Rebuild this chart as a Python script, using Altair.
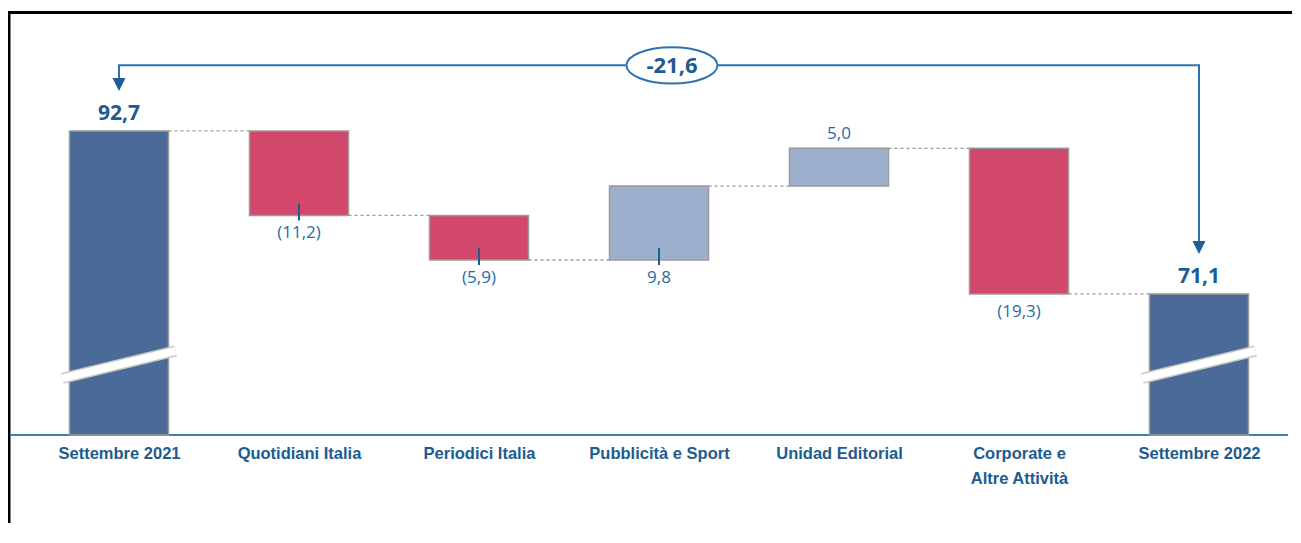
import json
import altair as alt
import pandas as pd

# ---------------- data ----------------
categories = ["Settembre 2021", "Quotidiani Italia", "Periodici Italia",
              "Pubblicità e Sport", "Unidad Editorial",
              "Corporate e\nAltre Attività", "Settembre 2022"]
values = [92.7, -11.2, -5.9, 9.8, 5.0, -19.3, 71.1]
kinds = ["total", "delta", "delta", "delta", "delta", "delta", "total"]
value_labels = ["92,7", "(11,2)", "(5,9)", "9,8", "5,0", "(19,3)", "71,1"]
label_side = ["top", "bottom", "bottom", "bottom", "top", "bottom", "top"]
has_tick = [False, True, True, True, False, False, False]
total_change = "-21,6"

# ---------------- scales / styling ----------------
Y_MIN, Y_MAX = 52.4, 109.0
W, H = 1284, 427
xs = alt.Scale(domain=[-0.5, 6.5], range=[21, 1281], nice=False, zero=False)
ys = alt.Scale(domain=[Y_MIN, Y_MAX], nice=False, zero=False)
HALF = 0.275

DARK = "#1d5b91"
LBL = "#2a6ca4"
ARROW = "#2b74b1"
FONT = "Open Sans"

# ---------------- build table ----------------
rows = []
run = 0.0
for i, (c, v, k, lab, side, tk) in enumerate(
        zip(categories, values, kinds, value_labels, label_side, has_tick)):
    if k == "total":
        lo, hi = Y_MIN, v
        color = "total"
        run = v
    else:
        start = run
        run = run + v
        lo, hi = min(start, run), max(start, run)
        color = "neg" if v < 0 else "pos"
    rows.append(dict(i=i, cat=c, x0=i - HALF, x1=i + HALF, lo=lo, hi=hi,
                     level=run, color=color, label=lab, side=side,
                     tick=tk, kind=k))
df = pd.DataFrame(rows)

conn = pd.DataFrame([dict(xa=r["i"] + HALF, xb=r["i"] + 1 - HALF, lvl=r["level"])
                     for r in rows[:-1]])

label_expr = "[" + ",".join(
    json.dumps(c.split("\n")) if "\n" in c else json.dumps(c) for c in categories
) + "][datum.value]"

XAXIS = alt.Axis(values=list(range(7)), labelExpr=label_expr,
                 labelFont="Liberation Sans", labelFontSize=16.5,
                 labelFontWeight="bold", labelColor=DARK,
                 labelPadding=10, labelLineHeight=25, labelAngle=0,
                 labelAlign="center", labelBaseline="top",
                 labelOverlap=False, labelFlush=False, labelBound=False,
                 ticks=False, domain=False, grid=False, title=None)


def X(field):
    return alt.X(field, type="quantitative", scale=xs, axis=XAXIS)


def Yq(field):
    return alt.Y(field, type="quantitative", scale=ys, axis=None)


base = alt.Chart(df)

# frame (decoration)
one = alt.Chart(pd.DataFrame({"a": [0]}))
frame_top = one.mark_rule(color="black", strokeWidth=3).encode(
    x=alt.value(0), x2=alt.value(W), y=alt.value(4.5))
frame_left = one.mark_rule(color="black", strokeWidth=3).encode(
    x=alt.value(1), y=alt.value(3), y2=alt.value(H + 88))

# baseline
baseline = alt.Chart(pd.DataFrame({"xa": [-0.605], "xb": [6.494], "yv": [Y_MIN]})).mark_rule(
    color="#3b7fb5", strokeWidth=2).encode(x=X("xa"), x2="xb", y=Yq("yv"))

# connectors
connectors = alt.Chart(conn).mark_rule(
    color="#9a9a9a", strokeWidth=1.3, strokeDash=[3, 3]).encode(
    x=X("xa"), x2="xb", y=Yq("lvl"))

# bars
bars = base.mark_rect(stroke="#9a9a9a", strokeWidth=1.5).encode(
    x=X("x0"), x2="x1",
    y=Yq("lo"), y2="hi",
    color=alt.Color("color:N", legend=None,
                    scale=alt.Scale(domain=["total", "neg", "pos"],
                                    range=["#4b6a98", "#d1486c", "#9cb0cd"])),
)

# axis breaks on total bars
brk_df = pd.DataFrame([dict(xa=r["i"] - 0.315, xb=r["i"] + 0.315, ya=59.9, yb=63.55)
                       for r in rows if r["kind"] == "total"])
brk_edge = alt.Chart(brk_df).mark_rule(color="#c8c8c8", strokeWidth=11).encode(
    x=X("xa"), x2="xb", y=Yq("ya"), y2="yb")
brk_white = alt.Chart(brk_df).mark_rule(color="white", strokeWidth=8).encode(
    x=X("xa"), x2="xb", y=Yq("ya"), y2="yb")

# small ticks
ticks = base.transform_filter("datum.tick").mark_rule(
    color=DARK, strokeWidth=2, yOffset=-12, y2Offset=5).encode(
    x=X("i"), y=Yq("lo"), y2="lo")

# delta labels
lab_below = base.transform_filter("datum.kind == 'delta' && datum.side == 'bottom'").mark_text(
    font=FONT, fontSize=17, color=LBL, baseline="middle", dy=18).encode(
    x=X("i"), y=Yq("lo"), text="label:N")
lab_above = base.transform_filter("datum.kind == 'delta' && datum.side == 'top'").mark_text(
    font=FONT, fontSize=17, color=LBL, baseline="middle", dy=-14).encode(
    x=X("i"), y=Yq("hi"), text="label:N")
lab_total = base.transform_filter("datum.kind == 'total'").mark_text(
    font=FONT, fontSize=21, fontWeight="bold", color=DARK, baseline="alphabetic", dy=-11).encode(
    x=X("i"), y=Yq("hi"), text="label:N")

# arrow connecting the two totals
ARROW_Y = 101.4
arrow_df = pd.DataFrame({"xp": [0, 0, 6, 6], "yp": [98.9, ARROW_Y, ARROW_Y, 77.3],
                         "o": [0, 1, 2, 3]})
arrow_line = alt.Chart(arrow_df).mark_line(color=ARROW, strokeWidth=2, strokeJoin="miter").encode(
    x=X("xp"), y=Yq("yp"), order="o:Q")
heads = alt.Chart(pd.DataFrame({"xp": [0, 6], "yp": [98.86, 77.26]})).mark_point(
    shape="M-1,-1L1,-1L0,1Z", size=169, filled=True, color="#1f5f99", opacity=1).encode(
    x=X("xp"), y=Yq("yp"))
ell_df = pd.DataFrame({"xp": [3.072], "yp": [ARROW_Y], "t": [total_change]})
ellipse = alt.Chart(ell_df).mark_point(
    shape="M-1,0A1,0.4,0,1,1,1,0A1,0.4,0,1,1,-1,0Z", size=8281, filled=False,
    fill="white", fillOpacity=1, stroke=ARROW, strokeWidth=2, opacity=1).encode(
    x=X("xp"), y=Yq("yp"))
ell_text = alt.Chart(ell_df).mark_text(
    font=FONT, fontSize=22, fontWeight="bold", color=DARK, baseline="middle", dy=1).encode(
    x=X("xp"), y=Yq("yp"), text="t:N")

chart = alt.layer(
    frame_top, frame_left, baseline, connectors, bars, brk_edge, brk_white, ticks,
    lab_below, lab_above, lab_total, arrow_line, heads, ellipse, ell_text
).properties(
    width=W, height=H,
    autosize=alt.AutoSizeParams(type="none"),
    padding={"left": 0, "top": 0, "right": 0, "bottom": 88},
    background="white",
).configure_view(stroke=None)

chart.save("out.html", embed_options={"renderer": "svg", "actions": False})
